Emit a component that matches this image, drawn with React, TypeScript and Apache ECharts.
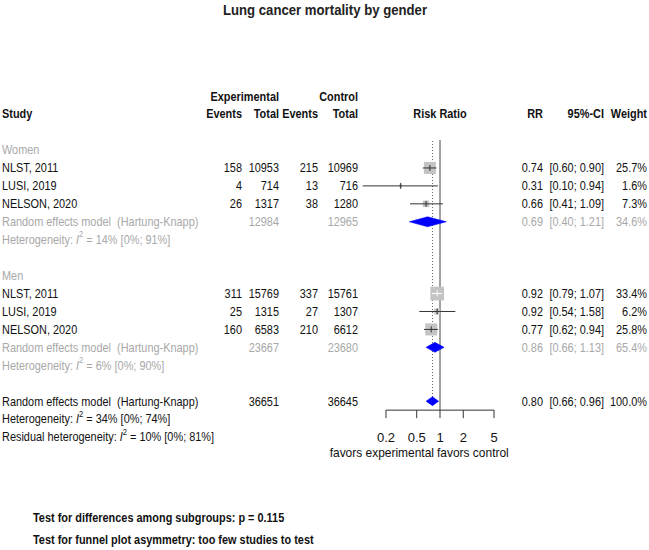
import React, { useEffect, useRef } from "react";
import * as echarts from "echarts";

const chartTitle = "Lung cancer mortality by gender";
const studies = ["NLST, 2011", "LUSI, 2019", "NELSON, 2020"];
const groupNames = ["Women", "Men"];

const womenEventsE = [158, 4, 26];
const womenTotalE = [10953, 714, 1317];
const womenEventsC = [215, 13, 38];
const womenTotalC = [10969, 716, 1280];
const womenRR = [0.74, 0.31, 0.66];
const womenLo = [0.6, 0.1, 0.41];
const womenHi = [0.9, 0.94, 1.09];
const womenW = [25.7, 1.6, 7.3];
const womenPooled = { totE: 12984, totC: 12965, rr: 0.69, lo: 0.4, hi: 1.21, w: 34.6 };
const womenHet = { i2: 14, lo: 0, hi: 91 };

const menEventsE = [311, 25, 160];
const menTotalE = [15769, 1315, 6583];
const menEventsC = [337, 27, 210];
const menTotalC = [15761, 1307, 6612];
const menRR = [0.92, 0.92, 0.77];
const menLo = [0.79, 0.54, 0.62];
const menHi = [1.07, 1.58, 0.94];
const menW = [33.4, 6.2, 25.8];
const menPooled = { totE: 23667, totC: 23680, rr: 0.86, lo: 0.66, hi: 1.13, w: 65.4 };
const menHet = { i2: 6, lo: 0, hi: 90 };

const overallPooled = { totE: 36651, totC: 36645, rr: 0.8, lo: 0.66, hi: 0.96, w: 100.0 };
const overallHet = { i2: 34, lo: 0, hi: 74 };
const residualHet = { i2: 10, lo: 0, hi: 81 };

const axisTicks = [0.2, 0.5, 1, 2, 5];
const subgroupTest = "Test for differences among subgroups: p = 0.115";
const funnelTest = "Test for funnel plot asymmetry: too few studies to test";

const FONT = "'Liberation Sans', Arial, sans-serif";
const SX = 0.84; // horizontal condensing to mimic a narrow font
const BLACK = "#111111";
const GREY = "#a8a8a8";

// x pixel anchors of the text columns
const X_STUDY = 2;
const X_EVE = 242;
const X_TOTE = 279;
const X_EVC = 318;
const X_TOTC = 358;
const X_RR = 543;
const X_CI = 604;
const X_W = 647;

const f2 = (v: number) => v.toFixed(2);
const ci = (lo: number, hi: number) => `[${f2(lo)}; ${f2(hi)}]`;
const pct = (v: number) => `${v.toFixed(1)}%`;
const het = (label: string, h: { i2: number; lo: number; hi: number }) =>
  `{a|${label}: }{i|I}{s|2}{a| = ${h.i2}% [${h.lo}%; ${h.hi}%]}`;

type TextItem = { row: number; x: number; text: string; align: string; color: string; bold?: boolean; rich?: boolean };

function buildTexts(): TextItem[] {
  const t: TextItem[] = [];
  const add = (row: number, x: number, text: string, align: string, color = BLACK, bold = false, rich = false) =>
    t.push({ row, x, text, align, color, bold, rich });
  add(-1, X_TOTE, "Experimental", "right", BLACK, true);
  add(-1, X_TOTC, "Control", "right", BLACK, true);
  add(0, X_STUDY, "Study", "left", BLACK, true);
  add(0, X_EVE, "Events", "right", BLACK, true);
  add(0, X_TOTE, "Total", "right", BLACK, true);
  add(0, X_EVC, "Events", "right", BLACK, true);
  add(0, X_TOTC, "Total", "right", BLACK, true);
  add(0, 440, "Risk Ratio", "center", BLACK, true);
  add(0, X_RR, "RR", "right", BLACK, true);
  add(0, X_CI, "95%-CI", "right", BLACK, true);
  add(0, X_W, "Weight", "right", BLACK, true);

  const groups = [
    { start: 2, ev: womenEventsE, te: womenTotalE, evc: womenEventsC, tc: womenTotalC, rr: womenRR, lo: womenLo, hi: womenHi, w: womenW, p: womenPooled, h: womenHet },
    { start: 9, ev: menEventsE, te: menTotalE, evc: menEventsC, tc: menTotalC, rr: menRR, lo: menLo, hi: menHi, w: menW, p: menPooled, h: menHet },
  ];
  groups.forEach((g, gi) => {
    add(g.start, X_STUDY, groupNames[gi], "left", GREY);
    studies.forEach((s, i) => {
      const r = g.start + 1 + i;
      add(r, X_STUDY, s, "left");
      add(r, X_EVE, String(g.ev[i]), "right");
      add(r, X_TOTE, String(g.te[i]), "right");
      add(r, X_EVC, String(g.evc[i]), "right");
      add(r, X_TOTC, String(g.tc[i]), "right");
      add(r, X_RR, f2(g.rr[i]), "right");
      add(r, X_CI, ci(g.lo[i], g.hi[i]), "right");
      add(r, X_W, pct(g.w[i]), "right");
    });
    const pr = g.start + 4;
    add(pr, X_STUDY, "Random effects model  (Hartung-Knapp)", "left", GREY);
    add(pr, X_TOTE, String(g.p.totE), "right", GREY);
    add(pr, X_TOTC, String(g.p.totC), "right", GREY);
    add(pr, X_RR, f2(g.p.rr), "right", GREY);
    add(pr, X_CI, ci(g.p.lo, g.p.hi), "right", GREY);
    add(pr, X_W, pct(g.p.w), "right", GREY);
    add(pr + 1, X_STUDY, het("Heterogeneity", g.h), "left", GREY, false, true);
  });
  add(16, X_STUDY, "Random effects model  (Hartung-Knapp)", "left");
  add(16, X_TOTE, String(overallPooled.totE), "right");
  add(16, X_TOTC, String(overallPooled.totC), "right");
  add(16, X_RR, f2(overallPooled.rr), "right");
  add(16, X_CI, ci(overallPooled.lo, overallPooled.hi), "right");
  add(16, X_W, pct(overallPooled.w), "right");
  add(17, X_STUDY, het("Heterogeneity", overallHet), "left", BLACK, false, true);
  add(18, X_STUDY, het("Residual heterogeneity", residualHet), "left", BLACK, false, true);
  return t;
}

const texts = buildTexts();

const studyMarks = [
  ...studies.map((_, i) => [womenRR[i], womenLo[i], womenHi[i], womenW[i], 3 + i]),
  ...studies.map((_, i) => [menRR[i], menLo[i], menHi[i], menW[i], 10 + i]),
];
const diamonds = [
  [womenPooled.rr, womenPooled.lo, womenPooled.hi, 6],
  [menPooled.rr, menPooled.lo, menPooled.hi, 13],
  [overallPooled.rr, overallPooled.lo, overallPooled.hi, 16],
];

export default function App() {
  const ref = useRef<HTMLDivElement>(null);
  useEffect(() => {
    if (!ref.current) return;
    const chart = echarts.init(ref.current, undefined, { renderer: "svg" });
    const option: any = {
      animation: false,
      backgroundColor: "#ffffff",
      grid: { left: 362.7, width: 154.6, top: 96.2, height: 358.8, containLabel: false },
      xAxis: { type: "log", logBase: 10, min: 0.1, max: 10, show: false },
      yAxis: { type: "value", min: -1, max: 19, inverse: true, show: false },
      graphic: [
        {
          type: "text", x: 325, y: 10, scaleX: 0.85,
          style: { text: chartTitle, font: `bold 15.5px ${FONT}`, fill: "#222", align: "center", verticalAlign: "middle" },
        },
        {
          type: "text", x: 33, y: 518, scaleX: SX,
          style: { text: subgroupTest, font: `bold 13px ${FONT}`, fill: BLACK, verticalAlign: "middle" },
        },
        {
          type: "text", x: 33, y: 540, scaleX: SX,
          style: { text: funnelTest, font: `bold 13px ${FONT}`, fill: BLACK, verticalAlign: "middle" },
        },
      ],
      series: [
        {
          type: "custom",
          name: "reference lines",
          data: [[1, 0]],
          renderItem: (params: any, api: any) => {
            const top = api.coord([1, 1.44]);
            const bot = api.coord([1, 16.5]);
            const dTop = api.coord([overallPooled.rr, 1.5]);
            const dBot = api.coord([overallPooled.rr, 15.9]);
            return {
              type: "group",
              children: [
                { type: "line", shape: { x1: dTop[0], y1: dTop[1], x2: dBot[0], y2: dBot[1] }, style: { stroke: "#666", lineWidth: 1, lineDash: [1, 2] } },
                { type: "line", shape: { x1: top[0], y1: top[1], x2: bot[0], y2: bot[1] }, style: { stroke: "#444", lineWidth: 1 } },
              ],
            };
          },
        },
        {
          type: "custom",
          name: "axis",
          data: [[1, 16.5]],
          renderItem: (params: any, api: any) => {
            const a = api.coord([axisTicks[0], 16.5]);
            const b = api.coord([axisTicks[axisTicks.length - 1], 16.5]);
            const children: any[] = [
              { type: "line", shape: { x1: a[0], y1: a[1], x2: b[0], y2: b[1] }, style: { stroke: "#333", lineWidth: 1 } },
            ];
            axisTicks.forEach((t) => {
              const p = api.coord([t, 16.5]);
              const lp = api.coord([t, 18]);
              children.push({ type: "line", shape: { x1: p[0], y1: p[1], x2: p[0], y2: p[1] + 8 }, style: { stroke: "#333", lineWidth: 1 } });
              children.push({ type: "text", x: lp[0], y: lp[1], style: { text: String(t), font: `13px ${FONT}`, fill: BLACK, align: "center", verticalAlign: "middle" } });
            });
            const f = api.coord([1, 18.9]);
            children.push({ type: "text", x: f[0] - 6, y: f[1], scaleX: 0.92, style: { text: "favors experimental", font: `13px ${FONT}`, fill: BLACK, align: "right", verticalAlign: "middle" } });
            children.push({ type: "text", x: f[0] - 3, y: f[1], scaleX: 0.92, style: { text: "favors control", font: `13px ${FONT}`, fill: BLACK, align: "left", verticalAlign: "middle" } });
            return { type: "group", children };
          },
        },
        {
          type: "custom",
          name: "studies",
          data: studyMarks,
          encode: { x: 0, y: 4 },
          renderItem: (params: any, api: any) => {
            const rr = api.value(0), lo = api.value(1), hi = api.value(2), w = api.value(3), row = api.value(4);
            const c = api.coord([rr, row]);
            const l = api.coord([lo, row]);
            const h = api.coord([hi, row]);
            const size = 2.37 * Math.sqrt(w);
            const inside = h[0] - l[0] < size;
            const stroke = inside ? "#ffffff" : "#333333";
            return {
              type: "group",
              children: [
                { type: "rect", shape: { x: c[0] - size / 2, y: c[1] - size / 2, width: size, height: size }, style: { fill: "#c4c4c4" } },
                { type: "line", shape: { x1: l[0], y1: l[1], x2: h[0], y2: h[1] }, style: { stroke, lineWidth: 1 } },
                { type: "line", shape: { x1: c[0], y1: c[1] - 3, x2: c[0], y2: c[1] + 3 }, style: { stroke, lineWidth: 1 } },
              ],
            };
          },
        },
        {
          type: "custom",
          name: "pooled",
          data: diamonds,
          encode: { x: 0, y: 3 },
          renderItem: (params: any, api: any) => {
            const rr = api.value(0), lo = api.value(1), hi = api.value(2), row = api.value(3);
            const c = api.coord([rr, row]);
            const l = api.coord([lo, row]);
            const h = api.coord([hi, row]);
            const hh = row === 16 ? 4.5 : 5;
            return {
              type: "polygon",
              shape: { points: [[l[0], c[1]], [c[0], c[1] - hh], [h[0], c[1]], [c[0], c[1] + hh]] },
              style: { fill: "#0000ff", stroke: "#0000ff", lineWidth: 0.5 },
            };
          },
        },
        {
          type: "custom",
          name: "texts",
          data: texts.map((t) => [1, t.row]),
          renderItem: (params: any, api: any) => {
            const t = texts[params.dataIndex];
            const p = api.coord([1, t.row]);
            const style: any = {
              text: t.text,
              fill: t.color,
              align: t.align,
              verticalAlign: "middle",
              font: `${t.bold ? "bold " : ""}13px ${FONT}`,
            };
            if (t.rich) {
              style.rich = {
                a: { fontFamily: FONT, fontSize: 13, color: t.color },
                i: { fontFamily: FONT, fontSize: 13, fontStyle: "italic", color: t.color },
                s: { fontFamily: FONT, fontSize: 9, color: t.color, verticalAlign: "top", lineHeight: 20 },
              };
            }
            return { type: "text", x: t.x, y: p[1], scaleX: SX, style };
          },
        },
      ],
    };
    chart.setOption(option);
    return () => chart.dispose();
  }, []);
  return (
    <div
      ref={ref}
      style={{ position: "absolute", left: 0, top: 0, width: 649, height: 550, background: "#fff" }}
    />
  );
}
